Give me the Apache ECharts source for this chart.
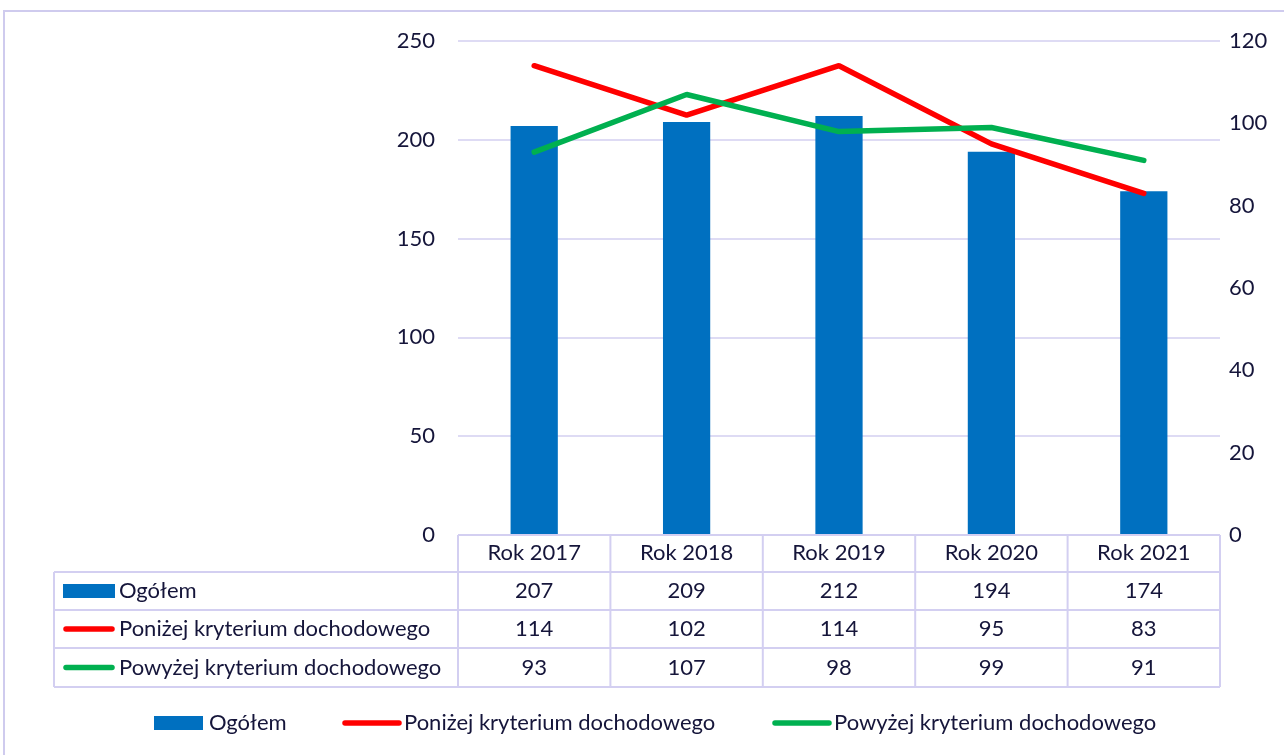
<!DOCTYPE html>
<html>
<head>
<meta charset="utf-8">
<script src="https://cdn.jsdelivr.net/npm/echarts@6/dist/echarts.min.js"></script>
<style>
  html, body { margin: 0; padding: 0; background: #ffffff; }
  #chart { width: 1284px; height: 755px; }
</style>
</head>
<body>
<div id="chart"></div>
<script>
// Categories and series values
const years = ['Rok 2017', 'Rok 2018', 'Rok 2019', 'Rok 2020', 'Rok 2021'];
const ogolem = [207, 209, 212, 194, 174];
const ponizej = [114, 102, 114, 95, 83];
const powyzej = [93, 107, 98, 99, 91];
const seriesNames = ['Ogółem', 'Poniżej kryterium dochodowego', 'Powyżej kryterium dochodowego'];
const seriesColors = ['#0070C0', '#FF0000', '#00B050'];

// Axis scales
const leftAxis = { min: 0, max: 250, interval: 50 };
const rightAxis = { min: 0, max: 120, interval: 20 };

const FONT = 'Lato, "Open Sans", sans-serif';
const TEXT = '#15153a';
const RULE = '#D3CFF1';
const FS = 22;

// Plot area geometry
const G = { left: 458, right: 64, top: 41, bottom: 220 };
const PLOT_BOTTOM = 755 - G.bottom;
// Data table rows (header, then one row per series)
const rowEdges = [PLOT_BOTTOM, 572, 610, 648, 687];
const TABLE_LEFT = 54;
// Legend strip at the bottom: start x of each key, vertical centre
const legendKeys = [154, 345, 775];
const LEGEND_Y = 723;

const chart = echarts.init(document.getElementById('chart'), null, { renderer: 'canvas' });

chart.setOption({
  backgroundColor: '#ffffff',
  animation: false,
  textStyle: { fontFamily: FONT, color: TEXT },
  grid: G,
  xAxis: {
    type: 'category',
    data: years,
    axisLine: { show: false },
    axisTick: { show: false },
    axisLabel: { fontFamily: FONT, fontSize: FS, color: TEXT, margin: 7 }
  },
  yAxis: [
    {
      type: 'value',
      min: leftAxis.min, max: leftAxis.max, interval: leftAxis.interval,
      axisLine: { show: false },
      axisTick: { show: false },
      axisLabel: { fontFamily: FONT, fontSize: FS, color: TEXT, margin: 23 },
      splitLine: { lineStyle: { color: RULE, width: 1.5 } }
    },
    {
      type: 'value',
      min: rightAxis.min, max: rightAxis.max, interval: rightAxis.interval,
      axisLine: { show: false },
      axisTick: { show: false },
      axisLabel: { fontFamily: FONT, fontSize: FS, color: TEXT, margin: 9 },
      splitLine: { show: false }
    }
  ],
  series: [
    {
      name: seriesNames[0],
      type: 'bar',
      data: ogolem,
      barWidth: '31%',
      itemStyle: { color: seriesColors[0] }
    },
    {
      name: seriesNames[1],
      type: 'line',
      yAxisIndex: 1,
      data: ponizej,
      symbol: 'none',
      lineStyle: { color: seriesColors[1], width: 5.5, cap: 'round' },
      itemStyle: { color: seriesColors[1] },
      z: 3
    },
    {
      name: seriesNames[2],
      type: 'line',
      yAxisIndex: 1,
      data: powyzej,
      symbol: 'none',
      lineStyle: { color: seriesColors[2], width: 5.5, cap: 'round' },
      itemStyle: { color: seriesColors[2] },
      z: 4
    }
  ]
});

// Key mark for a series: filled box for the bars, thick stroke for the lines
function keyMark(idx, x, cy, w) {
  if (idx === 0) {
    return { type: 'rect', silent: true, z: 10,
      shape: { x: x, y: cy - 7, width: w, height: 14 },
      style: { fill: seriesColors[0] } };
  }
  return { type: 'line', silent: true, z: 10,
    shape: { x1: x + 3, y1: cy, x2: x + w - 3, y2: cy },
    style: { stroke: seriesColors[idx], lineWidth: 5.5, lineCap: 'round' } };
}

function label(text, x, cy, align) {
  return { type: 'text', silent: true, z: 10,
    style: { x: x, y: cy, text: text, fill: TEXT,
      font: FS + 'px ' + FONT, textAlign: align, textVerticalAlign: 'middle' } };
}

// Data table under the plot, aligned with the category axis, plus the legend strip
function buildTable() {
  const centers = years.map(y => chart.convertToPixel({ xAxisIndex: 0 }, y));
  const band = centers[1] - centers[0];
  const colEdges = [centers[0] - band / 2].concat(centers.map(c => c + band / 2));
  const right = colEdges[colEdges.length - 1];
  const bottom = rowEdges[rowEdges.length - 1];
  const els = [];
  const line = (x1, y1, x2, y2) => els.push({
    type: 'line', silent: true, z: 10,
    shape: { x1: x1, y1: y1, x2: x2, y2: y2 },
    style: { stroke: RULE, lineWidth: 2 }
  });

  // horizontal rules
  line(colEdges[0], rowEdges[0], right, rowEdges[0]);
  for (let i = 1; i < rowEdges.length; i++) line(TABLE_LEFT, rowEdges[i], right, rowEdges[i]);
  // vertical rules
  line(TABLE_LEFT, rowEdges[1], TABLE_LEFT, bottom);
  colEdges.forEach(x => line(x, rowEdges[0], x, bottom));

  const rows = [ogolem, ponizej, powyzej];
  rows.forEach((vals, r) => {
    const cy = (rowEdges[r + 1] + rowEdges[r + 2]) / 2;
    els.push(keyMark(r, 63, cy, r === 0 ? 52 : 52));
    els.push(label(seriesNames[r], 119, cy, 'left'));
    vals.forEach((v, c) => els.push(label(String(v), centers[c], cy, 'center')));
  });

  // legend strip
  seriesNames.forEach((name, i) => {
    const x = legendKeys[i];
    const w = i === 0 ? 49 : 54;
    els.push(keyMark(i, i === 0 ? x : x - 3, LEGEND_Y, i === 0 ? w : w + 6));
    els.push(label(name, x + w + (i === 0 ? 6 : 5), LEGEND_Y, 'left'));
  });

  // outer frame
  els.push({ type: 'rect', silent: true, z: 0,
    shape: { x: 4, y: 11, width: 1400, height: 900 },
    style: { fill: 'none', stroke: '#CFCBEE', lineWidth: 2 } });

  chart.setOption({ graphic: els });
}
buildTable();
</script>
</body>
</html>
